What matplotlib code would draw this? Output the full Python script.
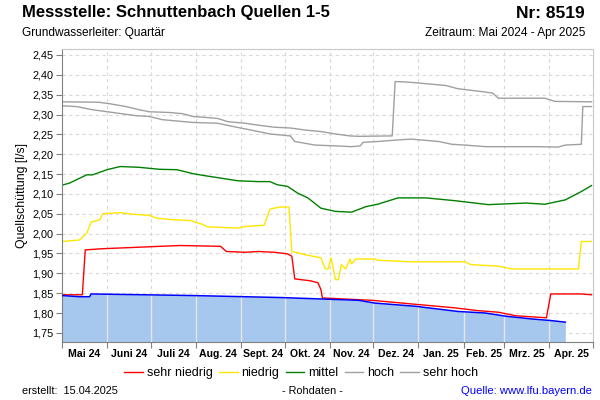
import numpy as np
import pandas as pd
import matplotlib
matplotlib.use("Agg")
import matplotlib.pyplot as plt
from matplotlib.ticker import FixedLocator, NullFormatter, FuncFormatter, MultipleLocator
from matplotlib.lines import Line2D

plt.rcParams['font.family'] = ['Liberation Sans', 'DejaVu Sans']

# reference levels (breakpoints)
sehr_hoch_dates = ["2024-05-01", "2024-05-26", "2024-06-03", "2024-06-14", "2024-06-23", "2024-06-30",
                   "2024-07-14", "2024-07-23", "2024-07-30", "2024-08-07", "2024-08-16", "2024-08-23",
                   "2024-09-04", "2024-09-13", "2024-09-24", "2024-10-05", "2024-10-15", "2024-10-26",
                   "2024-11-05", "2024-11-15", "2024-11-21", "2024-12-11", "2024-12-14", "2024-12-16",
                   "2024-12-23", "2024-12-30", "2025-01-20", "2025-01-28", "2025-02-13", "2025-02-21",
                   "2025-02-25", "2025-03-29", "2025-04-05", "2025-04-30"]
sehr_hoch = [2.332, 2.331, 2.327, 2.320, 2.312, 2.307, 2.305, 2.302, 2.295, 2.293, 2.290, 2.282,
             2.278, 2.273, 2.268, 2.266, 2.261, 2.257, 2.251, 2.246, 2.245, 2.246, 2.246, 2.383,
             2.382, 2.380, 2.373, 2.365, 2.358, 2.354, 2.341, 2.341, 2.333, 2.332]

hoch_dates = ["2024-05-01", "2024-05-11", "2024-05-22", "2024-06-03", "2024-06-21", "2024-06-30",
              "2024-07-09", "2024-07-30", "2024-08-16", "2024-08-25", "2024-09-13", "2024-09-21",
              "2024-10-05", "2024-10-08", "2024-10-22", "2024-11-05", "2024-11-16", "2024-11-22",
              "2024-11-24", "2024-12-04", "2024-12-18", "2024-12-27", "2025-01-15", "2025-01-24",
              "2025-02-02", "2025-02-16", "2025-03-24", "2025-04-07", "2025-04-12", "2025-04-23",
              "2025-04-24", "2025-04-30"]
hoch = [2.322, 2.320, 2.312, 2.306, 2.297, 2.295, 2.287, 2.280, 2.278, 2.271, 2.257, 2.251,
        2.246, 2.232, 2.223, 2.221, 2.219, 2.221, 2.230, 2.232, 2.236, 2.238, 2.232, 2.225,
        2.223, 2.219, 2.219, 2.218, 2.223, 2.225, 2.320, 2.320]

mittel_dates = ["2024-05-01", "2024-05-06", "2024-05-18", "2024-05-22", "2024-06-01", "2024-06-10",
                "2024-06-23", "2024-07-07", "2024-07-19", "2024-07-30", "2024-08-07", "2024-08-16",
                "2024-08-30", "2024-09-13", "2024-09-21", "2024-09-26", "2024-10-03", "2024-10-10",
                "2024-10-17", "2024-10-26", "2024-11-05", "2024-11-16", "2024-11-26", "2024-12-04",
                "2024-12-18", "2025-01-06", "2025-01-26", "2025-02-18", "2025-03-16", "2025-03-29",
                "2025-04-12", "2025-04-23", "2025-04-30"]
mittel = [2.122, 2.127, 2.148, 2.148, 2.161, 2.169, 2.167, 2.162, 2.161, 2.151, 2.146, 2.141,
          2.133, 2.131, 2.131, 2.123, 2.119, 2.102, 2.090, 2.064, 2.056, 2.054, 2.068, 2.074,
          2.090, 2.090, 2.083, 2.073, 2.077, 2.074, 2.085, 2.106, 2.121]

niedrig_dates = ["2024-05-01", "2024-05-13", "2024-05-18", "2024-05-21", "2024-05-27", "2024-05-29",
                 "2024-06-10", "2024-06-18", "2024-06-30", "2024-07-05", "2024-07-16", "2024-07-28",
                 "2024-08-05", "2024-08-09", "2024-08-30", "2024-09-04", "2024-09-17", "2024-09-21",
                 "2024-09-28", "2024-10-04", "2024-10-06", "2024-10-15", "2024-10-26", "2024-10-29",
                 "2024-10-31", "2024-11-02", "2024-11-05", "2024-11-07", "2024-11-09", "2024-11-12",
                 "2024-11-15", "2024-11-16", "2024-11-19", "2024-12-02", "2024-12-04", "2024-12-27",
                 "2025-02-02", "2025-02-06", "2025-02-25", "2025-03-06", "2025-04-21", "2025-04-23",
                 "2025-04-30"]
niedrig = [1.980, 1.984, 2.001, 2.029, 2.035, 2.050, 2.053, 2.049, 2.046, 2.039, 2.035, 2.033,
           2.024, 2.017, 2.014, 2.018, 2.021, 2.062, 2.067, 2.067, 1.955, 1.947, 1.939, 1.911,
           1.911, 1.939, 1.884, 1.884, 1.922, 1.911, 1.936, 1.924, 1.936, 1.936, 1.933, 1.929,
           1.929, 1.922, 1.918, 1.911, 1.911, 1.980, 1.980]

sehr_niedrig_dates = ["2024-05-01", "2024-05-15", "2024-05-17", "2024-05-29", "2024-06-18", "2024-07-21",
                      "2024-08-18", "2024-08-22", "2024-09-04", "2024-09-13", "2024-09-24", "2024-10-03",
                      "2024-10-06", "2024-10-08", "2024-10-19", "2024-10-24", "2024-10-26", "2024-10-27",
                      "2024-11-30", "2024-12-27", "2025-01-26", "2025-02-11", "2025-02-25", "2025-03-09",
                      "2025-03-30", "2025-04-02", "2025-04-23", "2025-04-30"]
sehr_niedrig = [1.846, 1.846, 1.959, 1.962, 1.965, 1.970, 1.968, 1.955, 1.953, 1.955, 1.953, 1.949,
                1.943, 1.886, 1.881, 1.876, 1.859, 1.838, 1.832, 1.823, 1.813, 1.806, 1.802, 1.793,
                1.788, 1.848, 1.848, 1.846]

# measured discharge
mess_dates = ["2024-05-01", "2024-05-13", "2024-05-20", "2024-05-21", "2024-07-30", "2024-09-28",
              "2024-10-29", "2024-11-21", "2024-12-02", "2024-12-16", "2024-12-30", "2025-01-28",
              "2025-02-16", "2025-03-02", "2025-03-20", "2025-04-02", "2025-04-12"]
mess = [1.844, 1.841, 1.841, 1.848, 1.844, 1.839, 1.835, 1.832, 1.825, 1.821, 1.817, 1.804,
        1.800, 1.792, 1.785, 1.781, 1.777]

month_labels = ["Mai 24", "Juni 24", "Juli 24", "Aug. 24", "Sept. 24", "Okt. 24", "Nov. 24",
                "Dez. 24", "Jan. 25", "Feb. 25", "Mrz. 25", "Apr. 25"]

fig = plt.figure(figsize=(6, 4), dpi=100)
ax = fig.add_axes([0.1033, 0.145, 0.885, 0.7325])

x0 = pd.Timestamp("2024-05-01")
x1 = pd.Timestamp("2025-05-01")
ax.set_xlim(x0, x1)
ax.set_ylim(1.727, 2.465)

md = pd.to_datetime(mess_dates)
fill = ax.fill_between(md, 1.70, mess, color="#a6c8ee", lw=0, zorder=1)

month_starts = pd.date_range(x0, x1, freq="MS")
grid_kw = dict(color="#d8d8d8", lw=0.8, ls=(0, (3, 3)), zorder=0.5)
for y in np.arange(1.75, 2.451, 0.05):
    ax.axhline(y, **grid_kw)
for m in month_starts[1:-1]:
    ax.axvline(m, **grid_kw)
    vl = ax.axvline(m, color="#e6e6e6", lw=1.0, zorder=1.5)
    vl.set_clip_path(fill.get_paths()[0], ax.transData)

ax.plot(pd.to_datetime(sehr_hoch_dates), sehr_hoch, color="#a0a0a0", lw=1, zorder=2)
ax.plot(pd.to_datetime(hoch_dates), hoch, color="#a0a0a0", lw=1, zorder=2)
ax.plot(pd.to_datetime(mittel_dates), mittel, color="#008000", lw=1, zorder=2)
ax.plot(pd.to_datetime(niedrig_dates), niedrig, color="#ffe600", lw=1, zorder=2)
ax.plot(pd.to_datetime(sehr_niedrig_dates), sehr_niedrig, color="#ff0000", lw=1, zorder=2)
ax.plot(md, mess, color="#0000ff", lw=1.1, zorder=3)

# axes styling
for s in ["left", "bottom"]:
    ax.spines[s].set_color("#808080")
for s in ["top", "right"]:
    ax.spines[s].set_color("#c8c8c8")
ax.yaxis.set_major_locator(MultipleLocator(0.05))
ax.yaxis.set_major_formatter(FuncFormatter(lambda v, p: f"{v:.2f}".replace(".", ",")))
ax.tick_params(axis="y", length=4, color="#808080", labelsize=7.8, pad=2)

ax.xaxis.set_major_locator(FixedLocator(matplotlib.dates.date2num(month_starts)))
ax.xaxis.set_major_formatter(NullFormatter())
mids = [a + (b - a) / 2 for a, b in zip(month_starts[:-1], month_starts[1:])]
ax.xaxis.set_minor_locator(FixedLocator(matplotlib.dates.date2num(mids)))
ax.set_xticklabels(month_labels, minor=True, fontweight="bold", fontsize=7.6)
ax.tick_params(axis="x", which="major", length=4, color="#808080")
ax.tick_params(axis="x", which="minor", length=0, pad=5)

ax.set_ylabel("Quellschüttung [l/s]", fontsize=8.8, labelpad=3)

# legend
handles = [Line2D([], [], color=c, lw=1) for c in ["#ff0000", "#ffe600", "#008000", "#a0a0a0", "#a0a0a0"]]
fig.legend(handles, ["sehr niedrig", "niedrig", "mittel", "hoch", "sehr hoch"],
           loc="center", bbox_to_anchor=(0.502, 0.067), ncol=5, frameon=False, fontsize=9,
           handlelength=1.5, handletextpad=0.3, columnspacing=0.5)

# header and footer
fig.text(22 / 600, 1 - 13 / 400, "Messstelle: Schnuttenbach Quellen 1-5", fontsize=12,
         fontweight="bold", va="center", ha="left")
fig.text(585 / 600, 1 - 13 / 400, "Nr: 8519", fontsize=12.5, fontweight="bold", va="center", ha="right")
fig.text(22 / 600, 1 - 33 / 400, "Grundwasserleiter: Quartär", fontsize=8.6, va="center", ha="left")
fig.text(585 / 600, 1 - 33 / 400, "Zeitraum: Mai 2024 - Apr 2025", fontsize=8.6, va="center", ha="right")
fig.text(22 / 600, 1 - 391 / 400, "erstellt:  15.04.2025", fontsize=7.8, va="center", ha="left")
fig.text(312 / 600, 1 - 391 / 400, "- Rohdaten -", fontsize=7.8, va="center", ha="center")
fig.text(592 / 600, 1 - 391 / 400, "Quelle: www.lfu.bayern.de", fontsize=8.1, va="center", ha="right",
         color="#0000ff")

fig.savefig("out.png", dpi=100)
